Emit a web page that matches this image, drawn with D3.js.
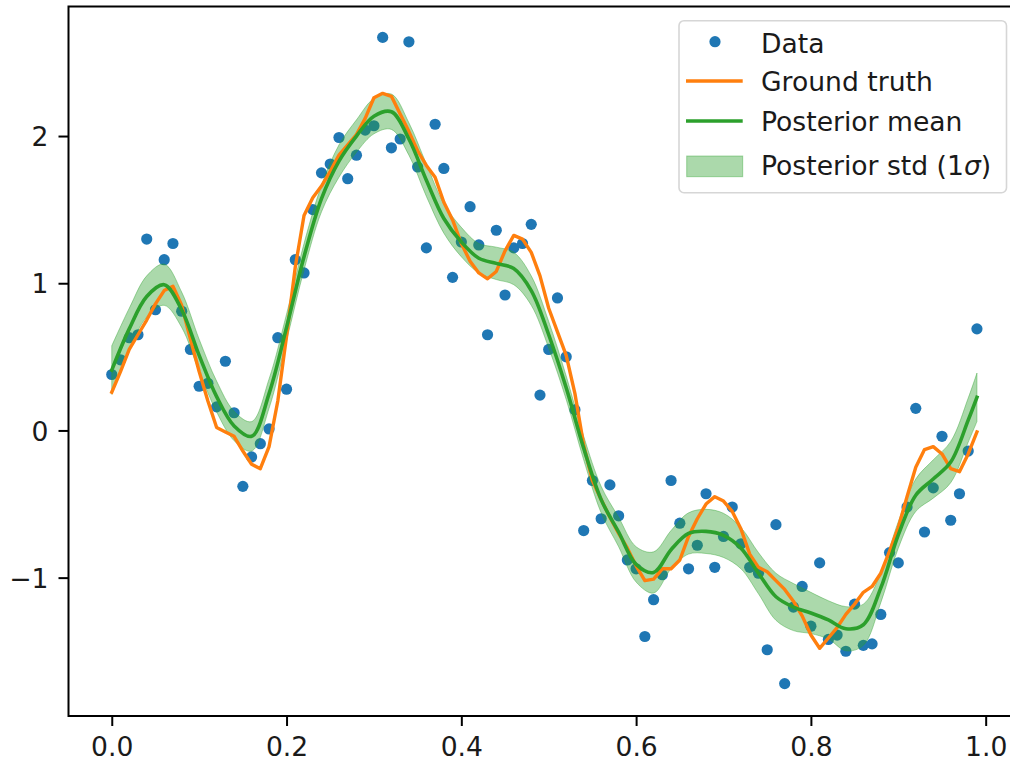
<!DOCTYPE html>
<html>
<head>
<meta charset="utf-8">
<script src="https://cdn.jsdelivr.net/npm/d3@7"></script>
<style>
  html, body { margin: 0; padding: 0; background: #ffffff; }
  svg { display: block; }
  text { font-family: "DejaVu Sans", sans-serif; fill: #1a1a1a; }
</style>
</head>
<body>
<script>
// ---------------- data ----------------
const dataX = d3.range(100).map(i => i / 100);
const dataY = [
  0.38, 0.48, 0.63, 0.65, 1.30, 0.82, 1.16, 1.27, 0.81, 0.55,
  0.30, 0.32, 0.16, 0.47, 0.12, -0.38, -0.18, -0.09, 0.01, 0.63,
  0.28, 1.16, 1.07, 1.50, 1.75, 1.81, 1.99, 1.71, 1.87, 2.04,
  2.07, 2.67, 1.92, 1.98, 2.64, 1.79, 1.24, 2.08, 1.78, 1.04,
  1.28, 1.52, 1.26, 0.65, 1.36, 0.92, 1.24, 1.27, 1.40, 0.24,
  0.55, 0.90, 0.50, 0.14, -0.68, -0.34, -0.60, -0.37, -0.58, -0.88,
  -0.94, -1.40, -1.15, -0.98, -0.34, -0.63, -0.94, -0.78, -0.43, -0.93,
  -0.72, -0.52, -0.77, -0.93, -0.97, -1.49, -0.64, -1.72, -1.20, -1.06,
  -1.33, -0.90, -1.42, -1.39, -1.50, -1.18, -1.46, -1.45, -1.25, -0.83,
  -0.90, -0.52, 0.15, -0.69, -0.39, -0.04, -0.61, -0.43, -0.14, 0.69
];
const truthY = [
  0.26, 0.40, 0.55, 0.65, 0.75, 0.86, 0.95, 0.98, 0.85, 0.62,
  0.40, 0.20, 0.02, -0.01, -0.04, -0.14, -0.23, -0.26, -0.11, 0.20,
  0.64, 1.11, 1.46, 1.58, 1.66, 1.76, 1.87, 1.94, 2.01, 2.12,
  2.26, 2.29, 2.27, 2.15, 2.03, 1.90, 1.80, 1.72, 1.55, 1.43,
  1.27, 1.15, 1.07, 1.03, 1.08, 1.22, 1.325, 1.30, 1.21, 1.05,
  0.83, 0.67, 0.51, 0.25, -0.10, -0.34, -0.47, -0.59, -0.70, -0.80,
  -0.92, -1.02, -1.01, -0.94, -0.94, -0.88, -0.72, -0.60, -0.50, -0.45,
  -0.48, -0.55, -0.67, -0.84, -0.93, -0.96, -1.02, -1.08, -1.16, -1.26,
  -1.39, -1.48, -1.41, -1.34, -1.25, -1.18, -1.10, -1.06, -0.97, -0.82,
  -0.66, -0.45, -0.25, -0.13, -0.11, -0.16, -0.26, -0.28, -0.16, -0.01
];
const postX = d3.range(50).map(k => k * 0.02).concat([0.99]);
const postMean = [
  0.41, 0.69, 0.91, 0.99, 0.82, 0.51, 0.23, 0.03, -0.04, 0.25,
  0.70, 1.18, 1.575, 1.83, 2.00, 2.135, 2.165, 1.98, 1.70, 1.44,
  1.28, 1.17, 1.135, 1.10, 0.95, 0.65, 0.29, -0.12, -0.47, -0.69,
  -0.91, -0.965, -0.81, -0.70, -0.686, -0.713, -0.80, -0.97, -1.13, -1.20,
  -1.24, -1.287, -1.347, -1.32, -1.07, -0.71, -0.44, -0.33, -0.215, 0.07,
  0.225
];
const postStd = [
  0.165, 0.14, 0.14, 0.14, 0.12, 0.11, 0.105, 0.10, 0.10, 0.10,
  0.09, 0.09, 0.09, 0.11, 0.11, 0.12, 0.12, 0.11, 0.11, 0.10,
  0.10, 0.10, 0.11, 0.11, 0.10, 0.09, 0.08, 0.08, 0.09, 0.10,
  0.12, 0.14, 0.13, 0.14, 0.15, 0.15, 0.14, 0.14, 0.16, 0.16,
  0.14, 0.13, 0.15, 0.14, 0.10, 0.09, 0.11, 0.13, 0.14, 0.15,
  0.165
];
const xTicks = [0, 0.2, 0.4, 0.6, 0.8, 1.0];
const xTickLabels = ["0.0", "0.2", "0.4", "0.6", "0.8", "1.0"];
const yTicks = [-1, 0, 1, 2];
const yTickLabels = ["\u22121", "0", "1", "2"];
const legendLabels = ["Data", "Ground truth", "Posterior mean", "Posterior std (1"];

// ---------------- colours ----------------
const C_DATA = "#1f77b4", C_TRUTH = "#ff7f0e", C_MEAN = "#2ca02c";

// ---------------- layout ----------------
const W = 1010, H = 761;
const L = 68.5, R = 1020.2, T = 6.5, B = 716;
const FS = 26.6;

const svg = d3.select("body").append("svg").attr("width", W).attr("height", H);

const x = d3.scaleLinear().domain([-0.0495, 1.0395]).range([L, R]);
const y = d3.scaleLinear().domain([-1.94, 2.88]).range([B, T]);

const plot = svg.append("g");
plot.append("clipPath").attr("id", "clip")
  .append("rect").attr("x", L).attr("y", T).attr("width", R - L).attr("height", B - T);
const inner = plot.append("g").attr("clip-path", "url(#clip)");

// data points
inner.append("g").selectAll("circle").data(dataX).join("circle")
  .attr("cx", d => x(d)).attr("cy", (d, i) => y(dataY[i]))
  .attr("r", 5.6).attr("fill", C_DATA);

// posterior std band
const band = d3.area()
  .x((d, i) => x(postX[i]))
  .y0((d, i) => y(postMean[i] - postStd[i]))
  .y1((d, i) => y(postMean[i] + postStd[i]))
  .curve(d3.curveCatmullRom.alpha(0.5));
inner.append("path").datum(postX).attr("d", band)
  .attr("fill", C_MEAN).attr("fill-opacity", 0.4)
  .attr("stroke", C_MEAN).attr("stroke-opacity", 0.4).attr("stroke-width", 1);

// ground truth
const truthLine = d3.line().x((d, i) => x(dataX[i])).y(d => y(d));
inner.append("path").datum(truthY).attr("d", truthLine)
  .attr("fill", "none").attr("stroke", C_TRUTH).attr("stroke-width", 3.4)
  .attr("stroke-linejoin", "round").attr("stroke-linecap", "square");

// posterior mean
const meanLine = d3.line().x((d, i) => x(postX[i])).y(d => y(d))
  .curve(d3.curveCatmullRom.alpha(0.5));
inner.append("path").datum(postMean).attr("d", meanLine)
  .attr("fill", "none").attr("stroke", C_MEAN).attr("stroke-width", 3.6)
  .attr("stroke-linejoin", "round").attr("stroke-linecap", "square");

// ---------------- axes ----------------
const xAxis = d3.axisBottom(x).tickValues(xTicks)
  .tickFormat((d, i) => xTickLabels[i]).tickSize(10).tickPadding(11);
const gx = svg.append("g").attr("transform", `translate(0,${B})`).call(xAxis);
const yAxis = d3.axisLeft(y).tickValues(yTicks)
  .tickFormat((d, i) => yTickLabels[i]).tickSize(10).tickPadding(10);
const gy = svg.append("g").attr("transform", `translate(${L},0)`).call(yAxis);
[gx, gy].forEach(g => {
  g.select(".domain").remove();
  g.selectAll(".tick line").attr("stroke", "#000").attr("stroke-width", 2);
  g.selectAll(".tick text").attr("font-size", FS)
    .attr("font-family", "DejaVu Sans").attr("fill", "#1a1a1a");
});
gy.selectAll(".tick text").attr("dy", "0.36em");

// frame
svg.append("rect").attr("x", L).attr("y", T).attr("width", R - L).attr("height", B - T)
  .attr("fill", "none").attr("stroke", "#000").attr("stroke-width", 2);

// ---------------- legend ----------------
const lg = svg.append("g");
lg.append("rect").attr("x", 679).attr("y", 20.7).attr("width", 327.5).attr("height", 172)
  .attr("rx", 5).attr("ry", 5)
  .attr("fill", "#ffffff").attr("fill-opacity", 0.8)
  .attr("stroke", "#d6d6d6").attr("stroke-width", 1.6);
lg.append("circle").attr("cx", 715).attr("cy", 41.7).attr("r", 5.6).attr("fill", C_DATA);
lg.append("line").attr("x1", 686).attr("x2", 742.7).attr("y1", 81).attr("y2", 81)
  .attr("stroke", C_TRUTH).attr("stroke-width", 3.4);
lg.append("line").attr("x1", 686).attr("x2", 742.7).attr("y1", 121).attr("y2", 121)
  .attr("stroke", C_MEAN).attr("stroke-width", 3.6);
lg.append("rect").attr("x", 686.7).attr("y", 156).attr("width", 56).attr("height", 20.7)
  .attr("fill", C_MEAN).attr("fill-opacity", 0.4)
  .attr("stroke", C_MEAN).attr("stroke-opacity", 0.4).attr("stroke-width", 1);
const baselines = [52.7, 90.7, 130.7, 175];
legendLabels.forEach((lab, i) => {
  const t = lg.append("text").attr("x", 761).attr("y", baselines[i]).attr("font-size", FS);
  t.append("tspan").text(lab);
  if (i === 3) {
    t.append("tspan").attr("font-style", "italic").text("\u03c3");
    t.append("tspan").text(")");
  }
});
</script>
</body>
</html>
